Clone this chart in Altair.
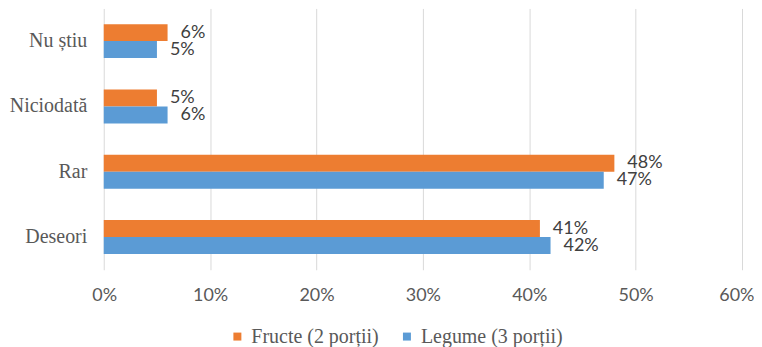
import altair as alt
import pandas as pd

categories = ["Nu știu", "Niciodată", "Rar", "Deseori"]
series = ["Fructe (2 porții)", "Legume (3 porții)"]
fructe = [6, 5, 48, 41]
legume = [5, 6, 47, 42]
colors = ["#ED7D31", "#5B9BD5"]
x_ticks = [0, 0.1, 0.2, 0.3, 0.4, 0.5, 0.6]

rows = []
for s, vals in zip(series, [fructe, legume]):
    for c, v in zip(categories, vals):
        rows.append({"cat": c, "series": s, "value": v / 100, "label": f"{v}%"})
df = pd.DataFrame(rows)

y = alt.Y(
    "cat:N",
    sort=categories,
    scale=alt.Scale(paddingInner=0.48, paddingOuter=0.24),
    axis=alt.Axis(
        title=None,
        labelFont="Liberation Serif",
        labelFontSize=20,
        labelColor="#595959",
        labelPadding=17,
        ticks=False,
        domain=False,
        grid=False,
        minExtent=96,
        maxExtent=96,
    ),
)
yoff = alt.YOffset("series:N", sort=series, scale=alt.Scale(paddingInner=0, paddingOuter=0))
x = alt.X(
    "value:Q",
    scale=alt.Scale(domain=[0, 0.6], nice=False),
    axis=alt.Axis(
        values=x_ticks,
        format=".0%",
        title=None,
        labelFont="Lato",
        labelFontSize=18,
        labelColor="#595959",
        labelPadding=17,
        labelFlush=True,
        labelFlushOffset=12,
        ticks=False,
        domain=False,
        grid=True,
        gridColor="#D9D9D9",
        gridWidth=1,
    ),
)

bars = alt.Chart(df).mark_bar().encode(
    x=x,
    y=y,
    yOffset=yoff,
    color=alt.Color(
        "series:N",
        sort=series,
        scale=alt.Scale(domain=series, range=colors),
        legend=alt.Legend(
            title=None,
            orient="none",
            legendX=124,
            legendY=319,
            direction="horizontal",
            symbolType="square",
            symbolSize=64,
            symbolStrokeWidth=0,
            labelFont="Liberation Serif",
            labelFontSize=20,
            labelColor="#595959",
            labelOffset=4,
            columnPadding=18,
            padding=0,
        ),
    ),
)

text = alt.Chart(df).mark_text(
    align="left", baseline="middle", dx=13, font="Lato", fontSize=18, color="#404040"
).encode(
    x=alt.X("value:Q"),
    y=alt.Y("cat:N", sort=categories),
    yOffset=alt.YOffset("series:N", sort=series),
    text="label:N",
)

chart = (
    alt.layer(bars, text)
    .properties(width=640, height=262, padding={"left": 0, "top": 0, "right": 0, "bottom": 0})
    .configure_view(stroke=None)
)

chart.save("out.html", embed_options={"renderer": "svg", "actions": False})
